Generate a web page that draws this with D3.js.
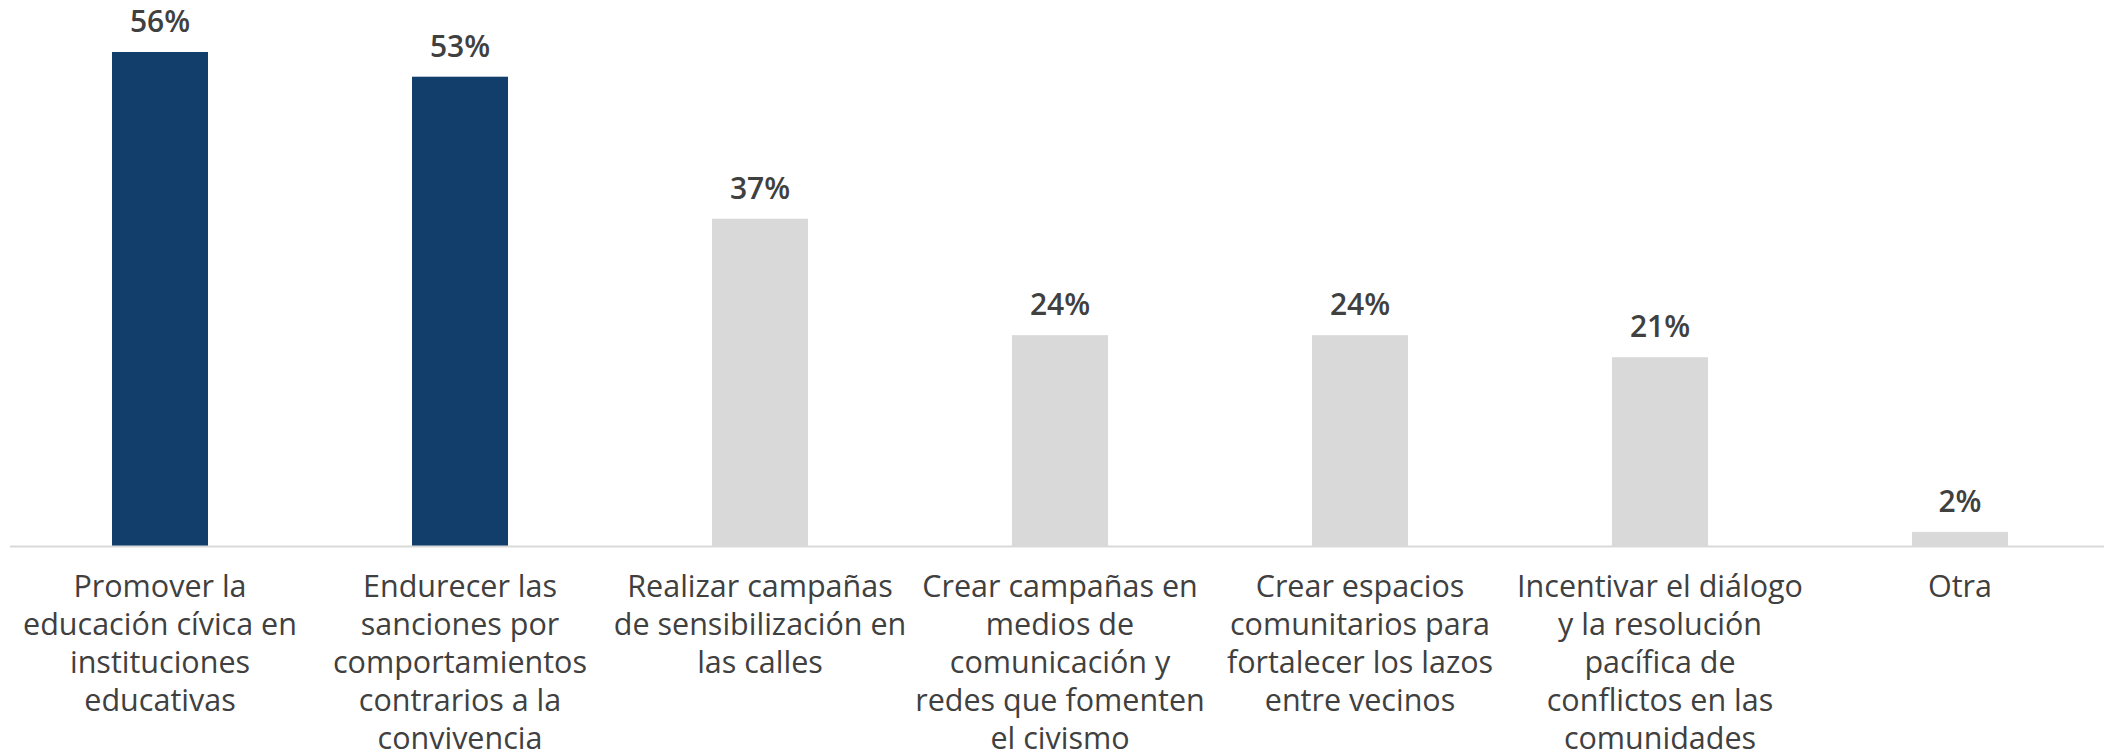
<!DOCTYPE html>
<html>
<head>
<meta charset="utf-8">
<script src="https://cdn.jsdelivr.net/npm/d3@7"></script>
<style>
  body { margin: 0; background: #fff; }
  svg { display: block; font-family: "Open Sans", Lato, sans-serif; }
</style>
</head>
<body>
<div id="chart"></div>
<script>

var categories = [
  "Promover la|educación cívica en|instituciones|educativas",
  "Endurecer las|sanciones por|comportamientos|contrarios a la|convivencia",
  "Realizar campañas|de sensibilización en|las calles",
  "Crear campañas en|medios de|comunicación y|redes que fomenten|el civismo",
  "Crear espacios|comunitarios para|fortalecer los lazos|entre vecinos",
  "Incentivar el diálogo|y la resolución|pacífica de|conflictos en las|comunidades",
  "Otra"
]
var values = [56, 53.2, 37.1, 23.9, 23.9, 21.4, 1.6]
var highlighted = [true, true, false, false, false, false, false]

var width = 2104,
    height = 752,
    baseline = 546

var svg = d3.select("#chart")
  .append("svg")
    .attr("width", width)
    .attr("height", height)

var x = d3.scaleBand()
  .domain(d3.range(categories.length))
  .range([10, 2110])
  .paddingInner(0.68)
  .paddingOuter(0.34)

var y = d3.scaleLinear()
  .domain([0, 56])
  .range([baseline, 52])

// bars
svg.selectAll("rect.bar")
  .data(values)
  .enter()
  .append("rect")
    .attr("class", "bar")
    .attr("x", function(d, i) { return x(i) })
    .attr("y", function(d) { return y(d) })
    .attr("width", x.bandwidth())
    .attr("height", function(d) { return y(0) - y(d) })
    .attr("fill", function(d, i) { return highlighted[i] ? "#123e6b" : "#d9d9d9" })

// baseline
svg.append("line")
  .attr("x1", x.range()[0])
  .attr("x2", x.range()[1])
  .attr("y1", baseline + 0.5)
  .attr("y2", baseline + 0.5)
  .attr("stroke", "#d9d9d9")
  .attr("stroke-width", 2)

// value labels
svg.selectAll("text.value")
  .data(values)
  .enter()
  .append("text")
    .attr("class", "value")
    .attr("x", function(d, i) { return x(i) + x.bandwidth() / 2 })
    .attr("y", function(d) { return y(d) - 20 })
    .attr("text-anchor", "middle")
    .attr("font-size", 30)
    .attr("font-weight", 600)
    .attr("fill", "#404040")
    .text(function(d) { return d3.format(".0f")(d) + "%" })

// category labels
var cat = svg.selectAll("text.cat")
  .data(categories)
  .enter()
  .append("text")
    .attr("class", "cat")
    .attr("x", function(d, i) { return x(i) + x.bandwidth() / 2 })
    .attr("y", 597)
    .attr("text-anchor", "middle")
    .attr("font-size", 30.5)
    .attr("fill", "#404040")

cat.each(function(d, i) {
  var t = d3.select(this)
  d.split("|").forEach(function(line, j) {
    t.append("tspan")
      .attr("x", x(i) + x.bandwidth() / 2)
      .attr("dy", j == 0 ? 0 : 38)
      .text(line)
  })
})

</script>
</body>
</html>
